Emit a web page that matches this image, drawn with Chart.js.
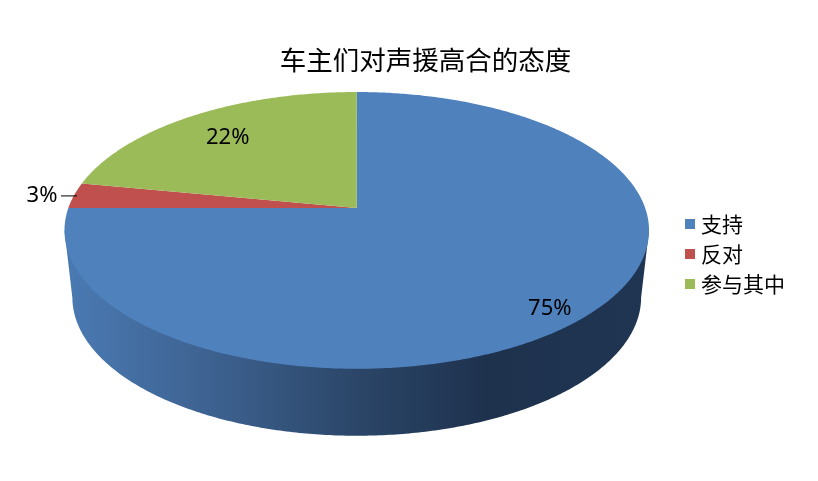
<!DOCTYPE html>
<html>
<head>
<meta charset="utf-8">
<script src="https://cdn.jsdelivr.net/npm/chart.js@4"></script>
<style>
body{margin:0;background:#fff;}
canvas{display:block;}
</style>
</head>
<body>
<canvas id="pieChart" width="818" height="481"></canvas>
<script>
const chartTitle = "车主们对声援高合的态度";
const categories = ["支持", "反对", "参与其中"];
const shares = [75, 3, 22];
const sliceColors = ["#4f81bd", "#c0504d", "#9bbb59"];

// where each % label sits: fraction of radius plus a small nudge
const labelSpots = [
    {f: 0.85, dx: 1, dy: 11},
    {f: 1, dx: -32, dy: 0},
    {f: 0.75, dx: -3, dy: 1}
];

// tilt of the pie, all relative to the radius Chart.js gives the arcs
const tilt = 0.1625;
const stretchX = 1.752;
const stretchY = 0.8185;
const liftY = -0.2794;
const wallDepth = 0.4069;
const wallShrink = 0.973;

function project(arc, angle, f) {
    // angle is the Chart.js one, -PI/2 is straight up
    const R = arc.outerRadius;
    const u = Math.cos(angle) * f;
    const v = Math.sin(angle) * f;
    const w = 1 - tilt * v;
    return {
        x: arc.x + R * stretchX * u / w,
        y: arc.y + R * liftY + R * stretchY * v / w
    };
}

function drawWall(ctx, arc) {
    const R = arc.outerRadius;
    const depth = R * wallDepth;
    const lo = Math.asin(tilt);
    const pts = [];
    for (let a = lo; a <= Math.PI - lo + 0.0001; a += 0.01) {
        const p = project(arc, a, 1);
        pts.push({x: arc.x + (p.x - arc.x) * wallShrink, y: p.y + depth});
    }
    const right = project(arc, lo, 1);
    const left = project(arc, Math.PI - lo, 1);
    const grad = ctx.createLinearGradient(left.x, 0, right.x, 0);
    grad.addColorStop(0, "#4a7ab3");
    grad.addColorStop(0.24, "#3e6392");
    grad.addColorStop(0.5, "#2b4668");
    grad.addColorStop(0.72, "#1e324e");
    grad.addColorStop(1, "#1f3551");
    ctx.beginPath();
    ctx.moveTo(right.x, right.y);
    pts.forEach(p => ctx.lineTo(p.x, p.y));
    ctx.lineTo(left.x, left.y);
    ctx.closePath();
    ctx.fillStyle = grad;
    ctx.fill();
}

function drawSlice(ctx, arc, color) {
    const c = project(arc, 0, 0);
    ctx.beginPath();
    ctx.moveTo(c.x, c.y);
    const steps = Math.ceil((arc.endAngle - arc.startAngle) / 0.01);
    for (let i = 0; i <= steps; i++) {
        const p = project(arc, arc.startAngle + (arc.endAngle - arc.startAngle) * i / steps, 1);
        ctx.lineTo(p.x, p.y);
    }
    ctx.closePath();
    ctx.fillStyle = color;
    ctx.fill();
}

const tiltedPie = {
    id: "tiltedPie",
    afterLayout(chart) {
        // title sits a bit right of the middle in the original
        chart.titleBlock.left += 23;
    },
    beforeDatasetDraw(chart) {
        const ctx = chart.ctx;
        const arcs = chart.getDatasetMeta(0).data;
        ctx.save();
        drawWall(ctx, arcs[0]);
        arcs.forEach((arc, i) => drawSlice(ctx, arc, sliceColors[i]));

        ctx.font = '22px "Noto Sans"';
        ctx.fillStyle = "#000";
        ctx.textAlign = "center";
        ctx.textBaseline = "middle";
        arcs.forEach((arc, i) => {
            const mid = (arc.startAngle + arc.endAngle) / 2;
            const p = project(arc, mid, labelSpots[i].f);
            ctx.fillText(shares[i] + "%", p.x + labelSpots[i].dx, p.y + labelSpots[i].dy);
        });

        // leader line for the small slice
        const p = project(arcs[1], (arcs[1].startAngle + arcs[1].endAngle) / 2, 1);
        ctx.strokeStyle = "#000";
        ctx.lineWidth = 1;
        ctx.beginPath();
        ctx.moveTo(p.x + 3, p.y + 0.5);
        ctx.lineTo(p.x - 13, p.y + 0.5);
        ctx.stroke();
        ctx.restore();
        return false;
    }
};

new Chart(document.getElementById("pieChart"), {
    type: "pie",
    data: {
        labels: categories,
        datasets: [{
            data: shares,
            backgroundColor: sliceColors,
            borderColor: sliceColors,
            borderWidth: 9
        }]
    },
    options: {
        responsive: false,
        animation: false,
        layout: {padding: {left: 33, right: 23, bottom: 58}},
        plugins: {
            title: {
                display: true,
                text: chartTitle,
                color: "#000",
                font: {family: '"Noto Sans CJK SC"', size: 26.5, weight: "normal"},
                padding: {top: 44, bottom: 9}
            },
            legend: {
                position: "right",
                fullSize: false,
                labels: {
                    color: "#000",
                    font: {family: '"Noto Sans CJK SC"', size: 21},
                    boxWidth: 1,
                    boxHeight: 1,
                    padding: 9
                }
            },
            tooltip: {enabled: false}
        }
    },
    plugins: [tiltedPie]
});
</script>
</body>
</html>
